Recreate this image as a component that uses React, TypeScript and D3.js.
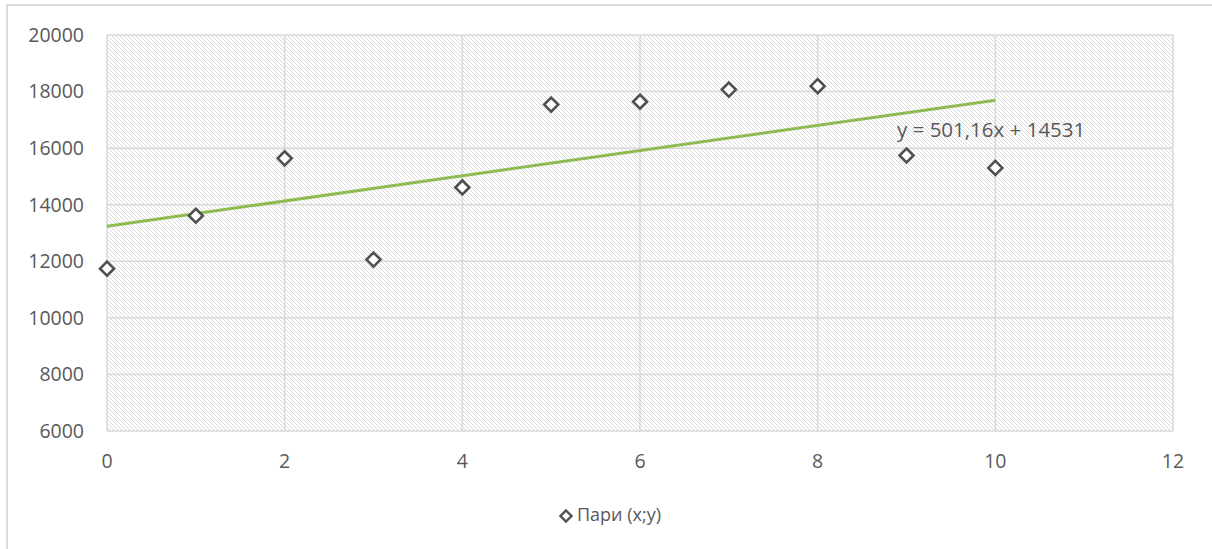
import React from "react";
import * as d3 from "d3";

const xValues = [0, 1, 2, 3, 4, 5, 6, 7, 8, 9, 10];
const yValues = [11740, 13610, 15640, 12060, 14610, 17540, 17640, 18070, 18190, 15740, 15300];
const xTicks = [0, 2, 4, 6, 8, 10, 12];
const yTicks = [6000, 8000, 10000, 12000, 14000, 16000, 18000, 20000];
const seriesName = "Пари (x;y)";
const equationLabel = "y = 501,16x + 14531";

const W = 1212;
const H = 549;
const M = { left: 107, right: 1173, top: 35, bottom: 431 };
const FONT = "'Open Sans', 'Noto Sans', sans-serif";
const TEXT = "#595959";
const GRID = "#d9d9d9";

export default function App() {
  const x = d3.scaleLinear().domain([0, 12]).range([M.left, M.right]);
  const y = d3.scaleLinear().domain([6000, 20000]).range([M.bottom, M.top]);

  const mx = d3.mean(xValues) as number;
  const my = d3.mean(yValues) as number;
  const sxy = d3.sum(xValues.map((v, i) => (v - mx) * (yValues[i] - my)));
  const sxx = d3.sum(xValues.map((v) => (v - mx) * (v - mx)));
  const slope = sxy / sxx;
  const intercept = my - slope * mx;
  const x0 = d3.min(xValues) as number;
  const x1 = d3.max(xValues) as number;
  const trend = d3.line<number>().x((d) => x(d)).y((d) => y(intercept + slope * d))([x0, x1]) as string;

  const diamond = (cx: number, cy: number, r: number) =>
    `M${cx},${cy - r}L${cx + r},${cy}L${cx},${cy + r}L${cx - r},${cy}Z`;

  return (
    <svg width={W} height={H} style={{ position: "absolute", left: 0, top: 0, background: "#fff" }} fontFamily={FONT}>
      <defs>
        <pattern id="hatch" width="4" height="4" patternUnits="userSpaceOnUse">
          <rect width="4" height="4" fill="#ffffff" />
          <rect x="0" y="0" width="1" height="1" fill="#dadada" />
          <rect x="1" y="1" width="1" height="1" fill="#dadada" />
          <rect x="2" y="2" width="1" height="1" fill="#dadada" />
          <rect x="3" y="3" width="1" height="1" fill="#dadada" />
        </pattern>
      </defs>
      <rect x={7} y={5} width={W + 20} height={H + 20} fill="#fff" stroke="#d0d0d0" strokeWidth={1.5} />
      <rect x={M.left} y={M.top} width={M.right - M.left} height={M.bottom - M.top} fill="url(#hatch)" />
      {yTicks.map((t) => (
        <line key={"gy" + t} x1={M.left} x2={M.right} y1={y(t)} y2={y(t)} stroke={GRID} strokeWidth={1.5} />
      ))}
      {xTicks.map((t) => (
        <line key={"gx" + t} x1={x(t)} x2={x(t)} y1={M.top} y2={M.bottom} stroke={GRID} strokeWidth={1.5} />
      ))}
      {yTicks.map((t) => (
        <text key={"ty" + t} x={M.left - 23} y={y(t)} dy="0.35em" textAnchor="end" fontSize={19.5} fill={TEXT}>
          {t}
        </text>
      ))}
      {xTicks.map((t) => (
        <text key={"tx" + t} x={x(t)} y={461} dy="0.35em" textAnchor="middle" fontSize={19.5} fill={TEXT}>
          {t}
        </text>
      ))}
      <path d={trend} stroke="#8fbb52" strokeWidth={3} fill="none" />
      {xValues.map((v, i) => (
        <path key={"p" + i} d={diamond(x(v), y(yValues[i]), 7)} fill="#fff" stroke="#505050" strokeWidth={2.6} />
      ))}
      <text x={897} y={130} dy="0.35em" fontSize={20.5} fill={TEXT}>
        {equationLabel}
      </text>
      <path d={diamond(566, 516, 5.5)} fill="#fff" stroke="#505050" strokeWidth={2.4} />
      <text x={577} y={515} dy="0.35em" fontSize={18} fill={TEXT}>
        {seriesName}
      </text>
    </svg>
  );
}
